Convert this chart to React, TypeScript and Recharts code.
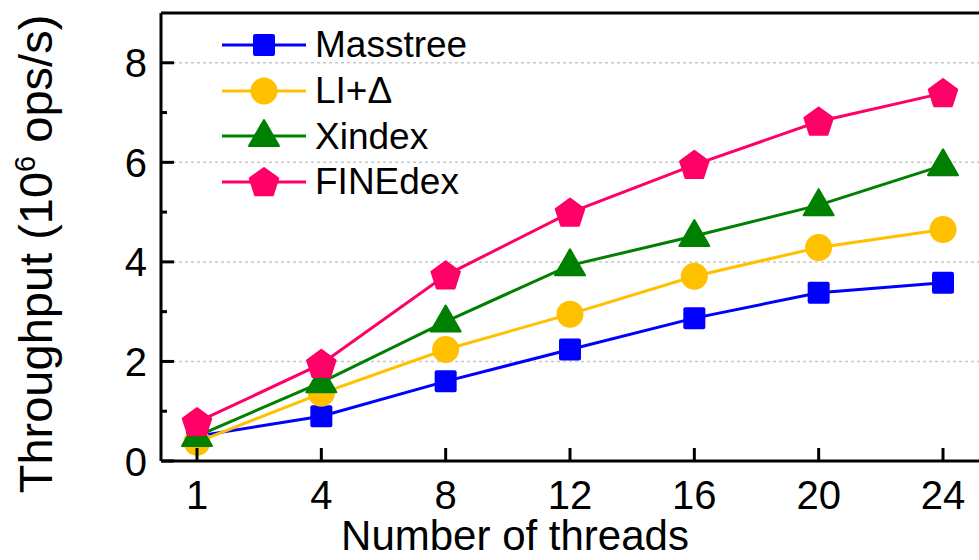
import React from "react";
import { Label, Legend, Line, LineChart, ReferenceLine, XAxis, YAxis } from "recharts";

const threads = ["1", "4", "8", "12", "16", "20", "24"];
const masstree = [0.5, 0.9, 1.6, 2.24, 2.87, 3.38, 3.58];
const liDelta = [0.38, 1.36, 2.24, 2.95, 3.71, 4.29, 4.65];
const xindex = [0.5, 1.58, 2.8, 3.93, 4.52, 5.14, 5.94];
const finedex = [0.78, 1.95, 3.73, 4.99, 5.95, 6.82, 7.39];

const yTicks = [0, 1, 2, 3, 4, 5, 6, 7, 8];
const gridValues = [2, 4, 6, 8];

const series = [
  { key: "masstree", name: "Masstree", color: "#0000ff", shape: "square" },
  { key: "liDelta", name: "LI+Δ", color: "#ffc000", shape: "circle" },
  { key: "xindex", name: "Xindex", color: "#008000", shape: "triangle" },
  { key: "finedex", name: "FINEdex", color: "#ff0066", shape: "pentagon" },
];

const data = threads.map((t, i) => ({
  threads: t,
  masstree: masstree[i],
  liDelta: liDelta[i],
  xindex: xindex[i],
  finedex: finedex[i],
}));

const FONT = "'Liberation Sans', Arial, Helvetica, sans-serif";

function Marker({ shape, cx, cy, color }: any) {
  if (shape === "square") {
    return <rect x={cx - 11} y={cy - 11} width={22} height={22} rx={2} fill={color} />;
  }
  if (shape === "circle") {
    return <circle cx={cx} cy={cy} r={13.5} fill={color} />;
  }
  if (shape === "triangle") {
    const pts = `${cx},${cy - 16} ${cx + 15},${cy + 10} ${cx - 15},${cy + 10}`;
    return <polygon points={pts} fill={color} stroke={color} strokeWidth={2} strokeLinejoin="round" />;
  }
  // pentagon
  const r = 15;
  const pts = [0, 1, 2, 3, 4]
    .map((k) => {
      const a = -Math.PI / 2 + (k * 2 * Math.PI) / 5;
      return `${cx + r * Math.cos(a)},${cy + 1 + r * Math.sin(a)}`;
    })
    .join(" ");
  return <polygon points={pts} fill={color} stroke={color} strokeWidth={2} strokeLinejoin="round" />;
}

function XTick({ x, y, payload }: any) {
  return (
    <g>
      <line x1={x} x2={x} y1={y} y2={y - 13} stroke="#000" strokeWidth={3} />
      <text x={x} y={y + 48} textAnchor="middle" fontSize={40} fontFamily={FONT} fill="#000">
        {payload.value}
      </text>
    </g>
  );
}

function YTick({ x, y, payload }: any) {
  const major = payload.value % 2 === 0;
  return (
    <g>
      <line x1={x} x2={x + (major ? 13 : 6)} y1={y} y2={y} stroke="#000" strokeWidth={3} />
      {major && (
        <text x={x - 14} y={y + 14.5} textAnchor="end" fontSize={40} fontFamily={FONT} fill="#000">
          {payload.value}
        </text>
      )}
    </g>
  );
}

function YTitle() {
  return (
    <text transform="translate(52,254) rotate(-90)" textAnchor="middle" fontSize={47} fontFamily={FONT} fill="#000">
      Throughput (10
      <tspan dy={-17} fontSize={29}>6</tspan>
      <tspan dy={17}> ops/s)</tspan>
    </text>
  );
}

function XTitle() {
  return (
    <text x={515} y={550} textAnchor="middle" fontSize={42} fontFamily={FONT} fill="#000">
      Number of threads
    </text>
  );
}

function LegendBox() {
  return (
    <div style={{ fontFamily: FONT }}>
      {series.map((s) => (
        <div key={s.key} style={{ display: "flex", alignItems: "center", height: 45.7 }}>
          <svg width={84} height={46}>
            <line x1={0} x2={84} y1={23} y2={23} stroke={s.color} strokeWidth={3} />
            <Marker shape={s.shape} cx={42} cy={23} color={s.color} />
          </svg>
          <span style={{ fontSize: 37, marginLeft: 9, color: "#000", lineHeight: 1 }}>{s.name}</span>
        </div>
      ))}
    </div>
  );
}

export default function App() {
  return (
    <div style={{ position: "absolute", left: 0, top: 0, background: "#fff" }}>
      <LineChart width={979} height={560} data={data} margin={{ top: 13, right: 0, left: 0, bottom: 0 }}>
        {gridValues.map((v) => (
          <ReferenceLine key={v} y={v} stroke="#c8c8c8" strokeDasharray="3 3" strokeWidth={1.5} />
        ))}
        <ReferenceLine y={9} stroke="#000" strokeWidth={3} />
        <XAxis
          dataKey="threads"
          type="category"
          height={99}
          padding={{ left: 36, right: 36 }}
          tickSize={0}
          tickMargin={0}
          tickLine={false}
          axisLine={{ stroke: "#000", strokeWidth: 3 }}
          tick={<XTick />}
          interval={0}
        >
          <Label content={<XTitle />} />
        </XAxis>
        <YAxis
          width={161}
          domain={[0, 9]}
          ticks={yTicks}
          interval={0}
          tickSize={0}
          tickMargin={0}
          tickLine={false}
          axisLine={{ stroke: "#000", strokeWidth: 3 }}
          tick={<YTick />}
        >
          <Label content={<YTitle />} />
        </YAxis>
        <Legend
          layout="vertical"
          align="center"
          verticalAlign="middle"
          content={<LegendBox />}
          wrapperStyle={{ left: 222, top: 22, width: "auto" }}
        />
        {series.map((s) => (
          <Line
            key={s.key}
            dataKey={s.key}
            name={s.name}
            stroke={s.color}
            strokeWidth={3}
            isAnimationActive={false}
            dot={(p: any) => <Marker key={`${s.key}-${p.index}`} shape={s.shape} cx={p.cx} cy={p.cy} color={s.color} />}
            activeDot={false}
          />
        ))}
      </LineChart>
    </div>
  );
}
